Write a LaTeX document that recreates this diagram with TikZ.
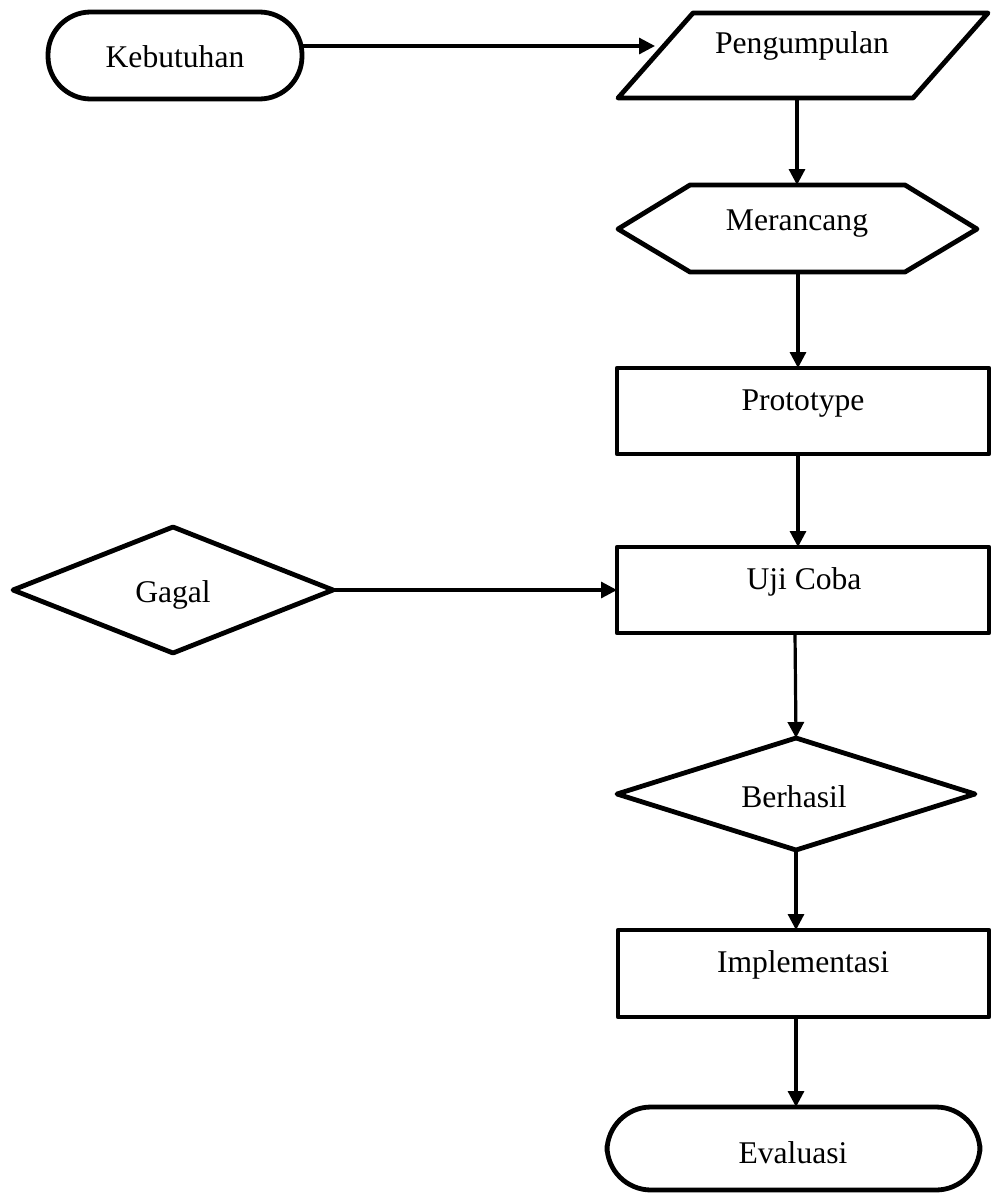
\documentclass[tikz,border=0pt]{standalone}
\usepackage{fontspec}
\setmainfont{Liberation Serif}
\usetikzlibrary{arrows.meta}
\begin{document}
\begin{tikzpicture}[x=0.75pt,y=-0.75pt,
  shapeline/.style={draw=black,line width=3.6pt,line join=round},
  conn/.style={draw=black,line width=2.4pt,-{Triangle[length=12pt,width=12pt]}},
  lbl/.style={anchor=base,font=\fontsize{23.7}{28}\selectfont,inner sep=0pt}]
\useasboundingbox (0,0) rectangle (991,1193);

% shapes
\draw[shapeline,rounded corners=32pt] (48,12) rectangle (302,99);
\draw[shapeline] (693,13) -- (988,13) -- (913,98) -- (618,98) -- cycle;
\draw[shapeline] (690,185) -- (905,185) -- (977,229) -- (905,272) -- (690,272) -- (618,229) -- cycle;
\draw[shapeline] (617,368) rectangle (989,454);
\draw[shapeline] (617,547) rectangle (989,633);
\draw[shapeline] (13,590) -- (173,527) -- (333,590) -- (173,653) -- cycle;
\draw[shapeline] (617,794) -- (796,738) -- (975,794) -- (796,850) -- cycle;
\draw[shapeline] (618,930) rectangle (989,1017);
\draw[shapeline,rounded corners=33pt] (607,1107) rectangle (980,1190);

% labels
\node[lbl] (keb) at (175,67) {Kebutuhan};
\node[lbl] (peng) at (802,53) {Pengumpulan};
\node[lbl] (mer) at (797,230) {Merancang};
\node[lbl] (proto) at (803,410) {Prototype};
\node[lbl] (uji) at (804,589) {Uji Coba};
\node[lbl] (gagal) at (173,602) {Gagal};
\node[lbl] (berhasil) at (794,807) {Berhasil};
\node[lbl] (impl) at (803,972) {Implementasi};
\node[lbl] (eval) at (793,1163) {Evaluasi};

% connector end points
\coordinate (kebR) at (302,46);
\coordinate (pengL) at (655,46);
\coordinate (pengB) at (797,98);
\coordinate (merT) at (797,185);
\coordinate (merB) at (798,272);
\coordinate (protoT) at (798,368);
\coordinate (protoB) at (798,454);
\coordinate (ujiT) at (798,547);
\coordinate (gagalR) at (333,590);
\coordinate (ujiL) at (617,590);
\coordinate (ujiB) at (795,633);
\coordinate (berT) at (796,738);
\coordinate (berB) at (796,850);
\coordinate (implT) at (796,930);
\coordinate (implB) at (796,1017);
\coordinate (evalT) at (796,1107);

% connectors
\draw[conn] (kebR) -- (pengL);
\draw[conn] (pengB) -- (merT);
\draw[conn] (merB) -- (protoT);
\draw[conn] (protoB) -- (ujiT);
\draw[conn] (gagalR) -- (ujiL);
\draw[conn] (ujiB) -- (berT);
\draw[conn] (berB) -- (implT);
\draw[conn] (implB) -- (evalT);
\end{tikzpicture}
\end{document}
